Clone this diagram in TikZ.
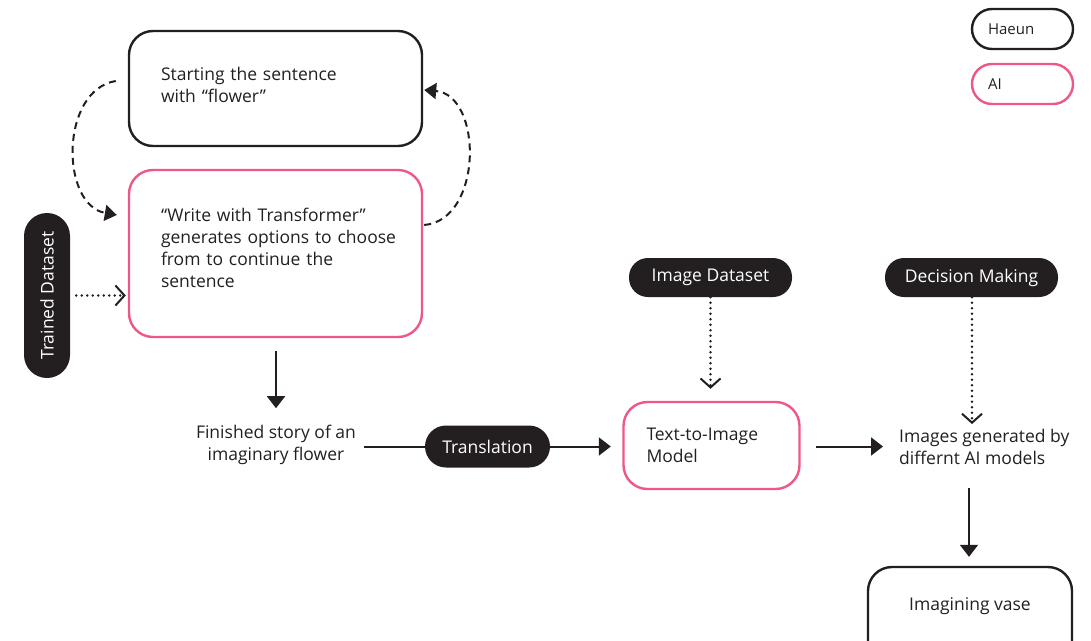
\documentclass[tikz,border=0pt]{standalone}
\usepackage{fontspec}
\setmainfont{Open Sans}
\usetikzlibrary{arrows.meta,calc}
\definecolor{ink}{RGB}{35,31,32}
\definecolor{pinkc}{RGB}{239,88,133}
\begin{document}
\begin{tikzpicture}[x=1pt,y=-1pt,
  font=\fontsize{17.5}{22}\selectfont, text=ink,
  hbox/.style={draw=ink, line width=2.4pt, rounded corners=24pt, align=left, inner xsep=32pt},
  aibox/.style={draw=pinkc, line width=2.4pt, rounded corners=24pt, align=left, inner xsep=32pt},
  pill/.style={fill=ink, text=white, rounded corners=19pt, inner sep=0pt},
  legend/.style={draw=#1, line width=2.4pt, rounded corners=20pt, align=left, inner xsep=16pt, text width=69pt, minimum height=40pt, font=\fontsize{15}{18}\selectfont},
  plain/.style={align=center, inner sep=0pt},
  arr/.style={draw=ink, line width=2pt, -{Triangle[length=12pt,width=18pt]}},
  dashedarr/.style={draw=ink, line width=2pt, dash pattern=on 7pt off 5pt, -{Triangle[length=12pt,width=16pt]}},
  dotarr/.style={draw=ink, line width=2.8pt, line cap=round, dash pattern=on 0pt off 5.5pt, -{Straight Barb[length=9pt,width=20pt,line width=2pt]}},
]
\useasboundingbox (0,0) rectangle (1091,640);

% legend
\node[legend=ink] (haeun) at (1022.5,29) {Haeun};
\node[legend=pinkc] (ai) at (1022.5,84) {AI};

% main boxes
\node[hbox, text width=229pt, text depth=30pt, minimum height=115pt] (start) at (275.5,88.5)
  {\mbox{Starting the sentence}\\with “flower”};
\node[aibox, text width=229pt, text depth=78pt, minimum height=167pt] (write) at (275.5,253.5)
  {\mbox{“Write with Transformer”}\\\mbox{generates options to choose}\\\mbox{from to continue the}\\sentence};

% trained dataset
\node[pill, rotate=90, minimum width=165pt, minimum height=46pt, rounded corners=23pt] (trained) at (47,295.5) {Trained Dataset};

% finished story
\node[plain] (finished) at (276,445) {Finished story of an\\imaginary flower};
\node[pill, minimum width=125pt, minimum height=42pt, rounded corners=21pt] (transl) at (487.5,446.5) {Translation};

% text-to-image
\node[aibox, inner xsep=23pt, text width=130pt, minimum height=87pt] (tti) at (711.5,445.5) {Text-to-Image\\Model};
\node[pill, minimum width=163pt, minimum height=39pt] (imgds) at (710.5,277.5) {Image Dataset};

\node[plain, align=left, anchor=west] (images) at (899,447) {Images generated by\\differnt AI models};
\node[pill, minimum width=173pt, minimum height=39pt] (decision) at (971.5,277.5) {Decision Making};

\node[hbox, inner xsep=0pt, minimum width=204pt, minimum height=100pt, align=center] (vase) at (970,617)
  {\raisebox{7pt}[0pt][0pt]{Imagining vase}};

% connectors
\draw[dashedarr] ([xshift=-12pt,yshift=7.5pt]start.west)
  .. controls (60,90) and (60,205) .. ([xshift=-11pt,yshift=38.5pt]write.west);
\draw[dashedarr] ([xshift=1pt,yshift=28.5pt]write.east)
  .. controls (483,220) and (483,95) .. ([xshift=1pt,yshift=-1.5pt]start.east);
\draw[dotarr] ([xshift=6pt]trained.south) -- ([xshift=-2pt]write.west |- trained.center);
\draw[arr] ([yshift=-13pt]write.south -| finished.north) -- ([yshift=-70pt]write.south -| finished.north);
\draw[draw=ink, line width=2pt] ([xshift=8pt]finished.east |- transl.west) -- (transl.west);
\draw[arr] (transl.east) -- ([xshift=-11.5pt]tti.west |- transl.east);
\draw[dotarr] (imgds.south) -- ([yshift=12pt]tti.north -| imgds.south);
\draw[arr] ([xshift=15pt]tti.east |- transl.east) -- ([xshift=-16pt]images.west |- transl.east);
\draw[dotarr] ([xshift=0.5pt]decision.south) -- ([xshift=0.5pt,yshift=5pt]decision.south |- images.north);
\draw[arr] ([xshift=-1pt,yshift=-23pt]vase.north |- images.south) -- ([xshift=-1pt,yshift=9pt]vase.north);
\end{tikzpicture}
\end{document}
